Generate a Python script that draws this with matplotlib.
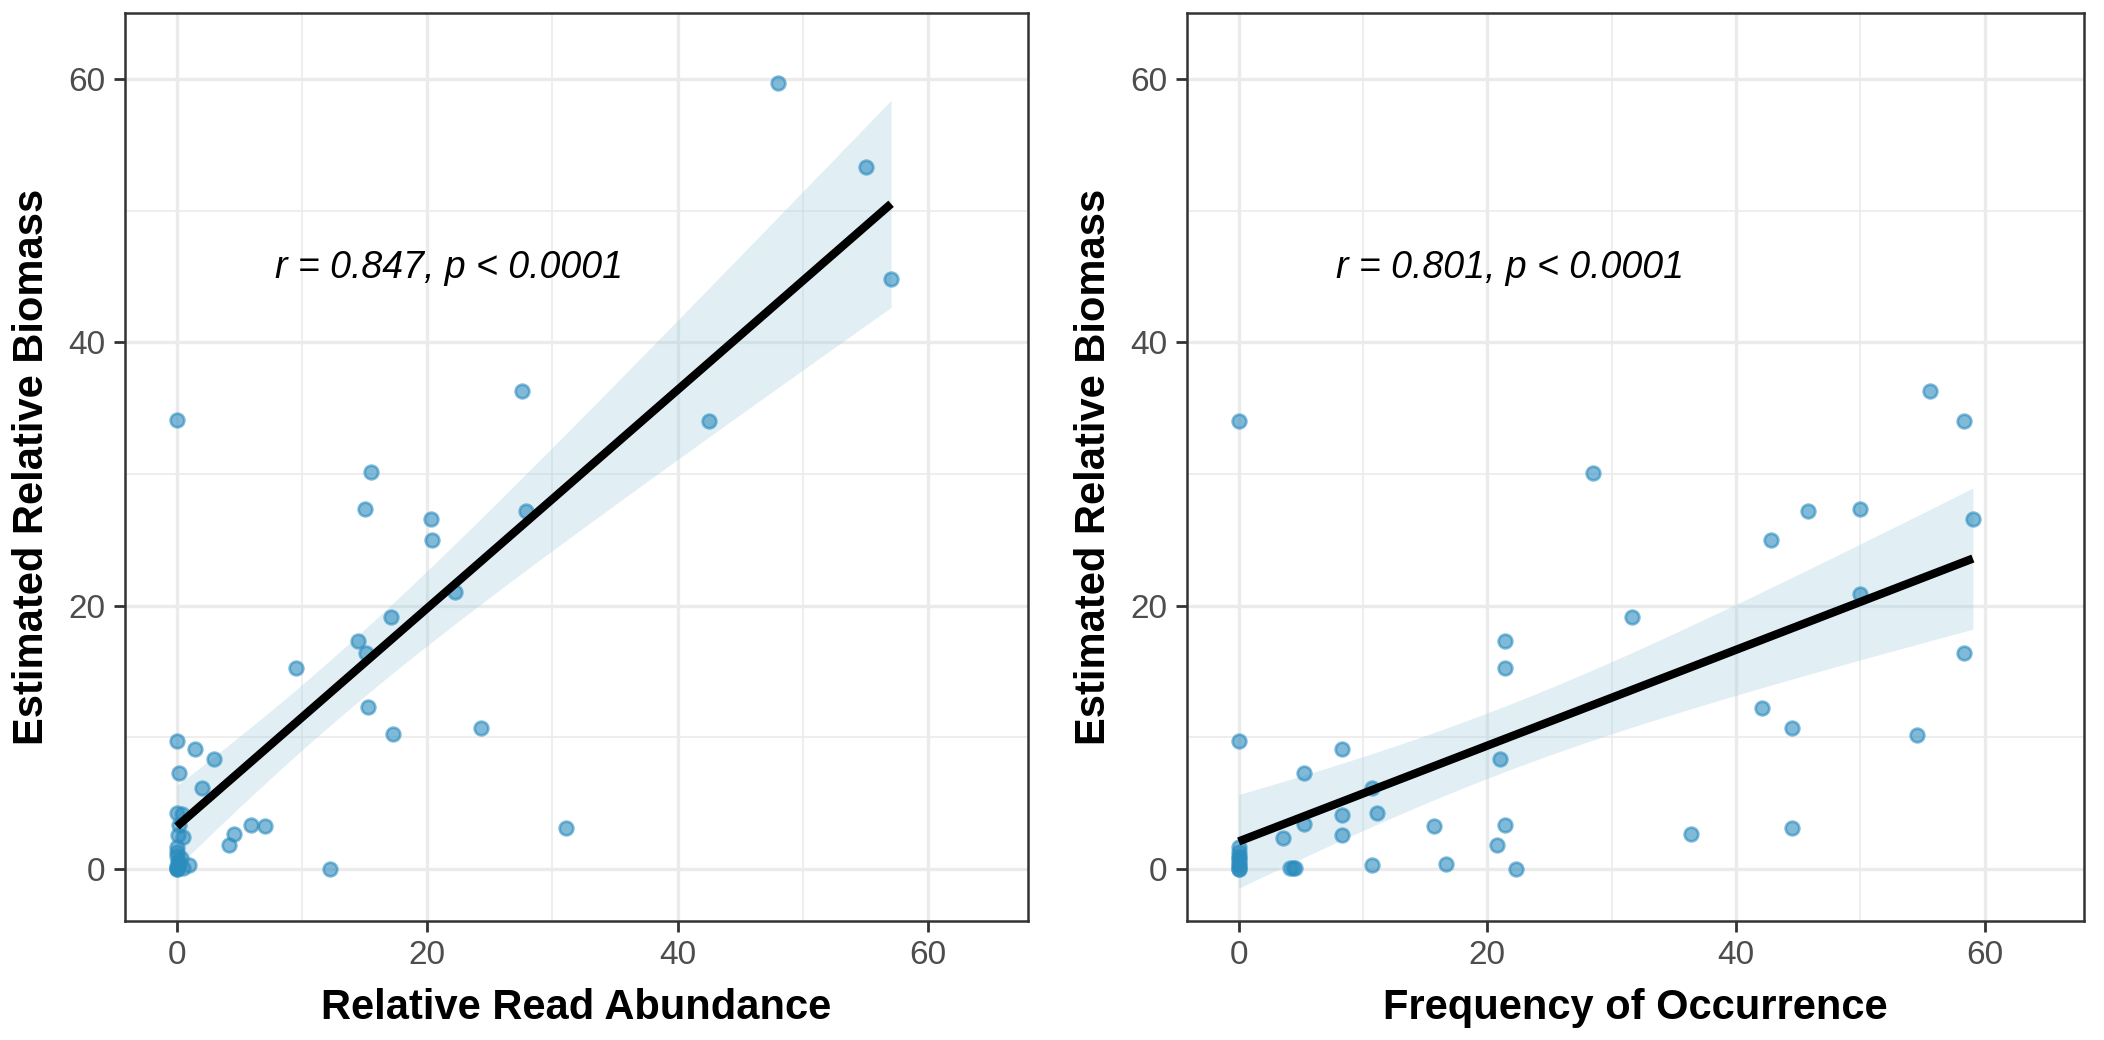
import numpy as np
import matplotlib
matplotlib.use("Agg")
import matplotlib.pyplot as plt
from matplotlib.ticker import MultipleLocator

plt.rcParams['font.family'] = ['Liberation Sans', 'DejaVu Sans']

# ---- data: left panel (Relative Read Abundance vs Estimated Relative Biomass)
rra_x = [48.05, 55.06, 57.06, 42.5, 27.6, 15.54, 15.06, 20.34, 20.4, 27.86,
         22.18, 17.1, 14.45, 15.1, 9.5, 15.3, 17.3, 24.3, 31.1, 12.2,
         0.0, 0.0, 1.46, 2.93, 0.13, 2.0, 0.0, 0.4, 0.13, 4.53,
         4.2, 5.9, 7.06, 0.1, 0.5, 0.0, 0.0, 0.93,
         0.0, 0.0, 0.0, 0.0, 0.2, 0.1, 0.3, 0.0, 0.5]
rra_y = [59.7, 53.3, 44.8, 34.0, 36.3, 30.17, 27.3, 26.6, 25.0, 27.2,
         21.0, 19.1, 17.34, 16.4, 15.3, 12.3, 10.25, 10.7, 3.14, 0.0,
         34.1, 9.74, 9.13, 8.35, 7.29, 6.17, 4.23, 4.18, 3.34, 2.66,
         1.82, 3.34, 3.26, 2.58, 2.4, 1.7, 1.0, 0.3,
         0.0, 0.0, 0.1, 0.2, 0.4, 0.6, 0.8, 1.3, 0.1]

# ---- data: right panel (Frequency of Occurrence vs Estimated Relative Biomass)
foo_x = [0.0, 28.5, 21.4, 21.4, 55.6, 58.35, 45.8, 50.0, 59.06, 42.86,
         50.0, 31.6, 58.35, 42.1, 44.5, 54.6, 36.4, 44.5, 0.0, 8.3,
         5.25, 21.0, 10.7, 8.3, 11.1, 5.25, 3.54, 8.3, 15.74, 21.4,
         20.8, 0.0, 4.15, 4.4, 4.55, 10.7, 16.7, 22.3,
         0.0, 0.0, 0.0, 0.0, 0.0, 0.0, 0.0, 0.0]
foo_y = [34.0, 30.1, 17.3, 15.24, 36.3, 34.0, 27.2, 27.3, 26.6, 25.0,
         20.9, 19.1, 16.4, 12.2, 10.7, 10.2, 2.66, 3.09, 9.74, 9.13,
         7.29, 8.35, 6.15, 4.13, 4.23, 3.42, 2.38, 2.56, 3.26, 3.34,
         1.82, 1.7, 0.05, 0.05, 0.05, 0.3, 0.38, 0.0,
         0.0, 0.0, 0.2, 0.4, 0.6, 0.8, 1.0, 1.3]

labels_x = ["Relative Read Abundance", "Frequency of Occurrence"]
label_y = "Estimated Relative Biomass"
annotations = ["r = 0.847, p < 0.0001", "r = 0.801, p < 0.0001"]
ann_pos = (7.8, 45.6)

PT_COLOR = '#2B8CBE'
BAND_COLOR = '#9ECAE1'

T975 = {45: 2.014, 44: 2.015, 43: 2.017}


def fit_band(x, y):
    x = np.asarray(x, float)
    y = np.asarray(y, float)
    n = len(x)
    b, a = np.polyfit(x, y, 1)
    xs = np.linspace(x.min(), x.max(), 200)
    yhat = a + b * xs
    resid = y - (a + b * x)
    s = np.sqrt(np.sum(resid ** 2) / (n - 2))
    sxx = np.sum((x - x.mean()) ** 2)
    se = s * np.sqrt(1.0 / n + (xs - x.mean()) ** 2 / sxx)
    t = T975.get(n - 2, 2.015)
    return xs, yhat, yhat - t * se, yhat + t * se


fig = plt.figure(figsize=(10.52, 5.2), dpi=200)
axes = [fig.add_axes([0.0594, 0.1144, 0.4292, 0.8731]),
        fig.add_axes([0.5642, 0.1144, 0.4263, 0.8731])]

datasets = [(rra_x, rra_y), (foo_x, foo_y)]

for ax, (x, y), xl, ann in zip(axes, datasets, labels_x, annotations):
    ax.set_xlim(-4.15, 68.0)
    ax.set_ylim(-3.95, 65.0)
    ax.xaxis.set_major_locator(MultipleLocator(20))
    ax.yaxis.set_major_locator(MultipleLocator(20))
    ax.xaxis.set_minor_locator(MultipleLocator(10))
    ax.yaxis.set_minor_locator(MultipleLocator(10))
    ax.grid(which='major', color='#EBEBEB', lw=1.2, zorder=0)
    ax.grid(which='minor', color='#EBEBEB', lw=0.6, zorder=0)
    ax.set_axisbelow(True)
    for sp in ax.spines.values():
        sp.set_color('#333333')
        sp.set_linewidth(0.9)
    ax.tick_params(which='major', length=4, width=1.0, color='#333333',
                   labelsize=12, labelcolor='#4D4D4D', pad=3)
    ax.tick_params(which='minor', length=0)

    xs, yhat, lo, hi = fit_band(x, y)
    ax.fill_between(xs, lo, hi, color=BAND_COLOR, alpha=0.3, lw=0, zorder=2)
    ax.scatter(x, y, s=24, color=PT_COLOR, alpha=0.6, linewidths=1.0,
               edgecolors=PT_COLOR, zorder=3)
    ax.plot(xs, yhat, color='black', lw=3.0, zorder=4, solid_capstyle='butt')

    ax.text(ann_pos[0], ann_pos[1], ann, fontsize=13.5, style='italic',
            ha='left', va='center', color='black')
    ax.set_xlabel(xl, fontsize=15, fontweight='bold', labelpad=6)
    ax.set_ylabel(label_y, fontsize=15, fontweight='bold', labelpad=6)

fig.savefig('out.png', dpi=200)
